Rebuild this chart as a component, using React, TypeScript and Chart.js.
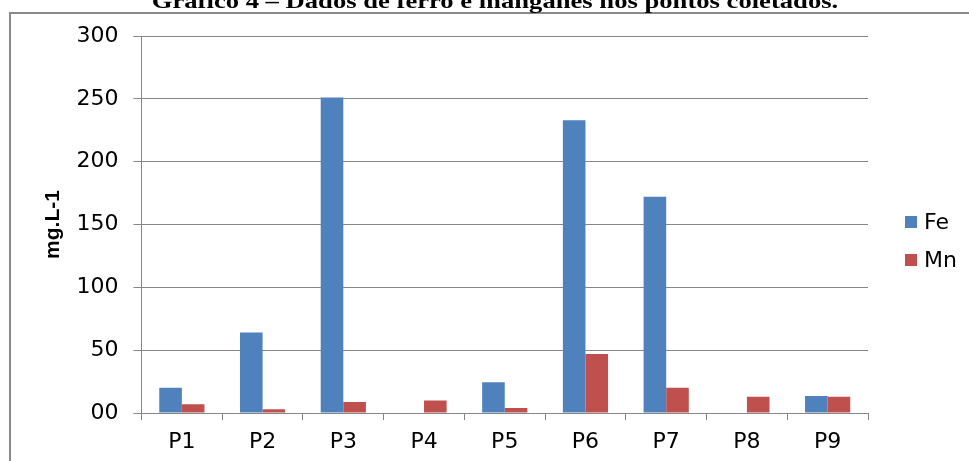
import { useEffect, useRef } from "react";
import { Chart, registerables } from "chart.js";

Chart.register(...registerables);

const categories = ["P1", "P2", "P3", "P4", "P5", "P6", "P7", "P8", "P9"];
const feValues = [20, 64, 251, 0, 24.5, 233, 172, 0, 13.5];
const mnValues = [7, 3, 8.7, 10, 4, 47, 20, 13, 13];
const seriesNames = ["Fe", "Mn"];
const seriesColors = ["#4F81BD", "#C0504D"];
const yTickLabels = ["00", "50", "100", "150", "200", "250", "300"];
const titleText = "Gráfico 4 – Dados de ferro e manganês nos pontos coletados.";
const yAxisTitle = "mg.L-1";

const SANS = "'DejaVu Sans', 'Liberation Sans', Arial, sans-serif";
const TITLE_SANS = "'Liberation Sans', Arial, sans-serif";
const GRID = "#868686";

const decor = {
  id: "decor",
  beforeDraw(chart: any) {
    const ctx = chart.ctx;
    ctx.save();
    ctx.strokeStyle = "#8a8a8a";
    ctx.lineWidth = 2;
    ctx.strokeRect(10, 13, 2000, 2000);
    ctx.restore();
  },
  afterDraw(chart: any) {
    const ctx = chart.ctx;
    ctx.save();
    ctx.fillStyle = "#000";
    ctx.font = "bold 22px 'Liberation Serif', 'Times New Roman', serif";
    ctx.textAlign = "center";
    ctx.textBaseline = "alphabetic";
    ctx.translate(495, 8);
    ctx.scale(1.21, 1);
    ctx.fillText(titleText, 0, 0);
    ctx.restore();

    ctx.save();
    const items = chart.data.datasets;
    ctx.font = "22px " + SANS;
    ctx.textAlign = "left";
    ctx.textBaseline = "middle";
    items.forEach((ds: any, i: number) => {
      const cy = 222 + i * 38;
      ctx.fillStyle = ds.backgroundColor;
      ctx.fillRect(905, cy - 6, 12, 12);
      ctx.fillStyle = "#000";
      ctx.fillText(ds.label, 924, cy + 1);
    });
    ctx.restore();
  },
};

export default function App() {
  const ref = useRef<HTMLCanvasElement | null>(null);
  useEffect(() => {
    if (!ref.current) return;
    const chart = new Chart(ref.current, {
      type: "bar",
      data: {
        labels: categories,
        datasets: [
          {
            label: seriesNames[0],
            data: feValues,
            backgroundColor: seriesColors[0],
            borderWidth: 0,
            categoryPercentage: 0.56,
            barPercentage: 1,
          },
          {
            label: seriesNames[1],
            data: mnValues,
            backgroundColor: seriesColors[1],
            borderWidth: 0,
            categoryPercentage: 0.56,
            barPercentage: 1,
          },
        ],
      },
      options: {
        animation: false,
        responsive: true,
        maintainAspectRatio: false,
        layout: { padding: { left: 0, right: 101, top: 36, bottom: 0 } },
        plugins: {
          legend: { display: false },
          title: { display: false },
          tooltip: { enabled: false },
        },
        scales: {
          x: {
            grid: {
              display: true,
              drawOnChartArea: false,
              drawTicks: true,
              tickLength: 7,
              color: GRID,
              offset: true,
            },
            border: { display: true, color: GRID, width: 1 },
            ticks: {
              color: "#000",
              font: { family: SANS, size: 22 },
              padding: 9,
              maxRotation: 0,
            },
            afterFit(scale: any) {
              scale.height = 48;
            },
          },
          y: {
            min: 0,
            max: 300,
            grid: {
              color: GRID,
              drawTicks: true,
              tickLength: 8,
            },
            border: { display: true, color: GRID, width: 1 },
            ticks: {
              stepSize: 50,
              color: "#000",
              font: { family: SANS, size: 22 },
              padding: 15,
              callback: (_v: any, i: number) => yTickLabels[i],
            },
            title: {
              display: true,
              text: yAxisTitle,
              color: "#000",
              font: { family: TITLE_SANS, size: 21, weight: "bold" },
              padding: { top: 41, bottom: 0 },
            },
            afterFit(scale: any) {
              scale.width = 141.5;
            },
          },
        },
      },
      plugins: [decor],
    } as any);
    return () => chart.destroy();
  }, []);
  return (
    <div style={{ position: "absolute", left: 0, top: 0, width: 969, height: 461 }}>
      <canvas ref={ref} />
    </div>
  );
}
